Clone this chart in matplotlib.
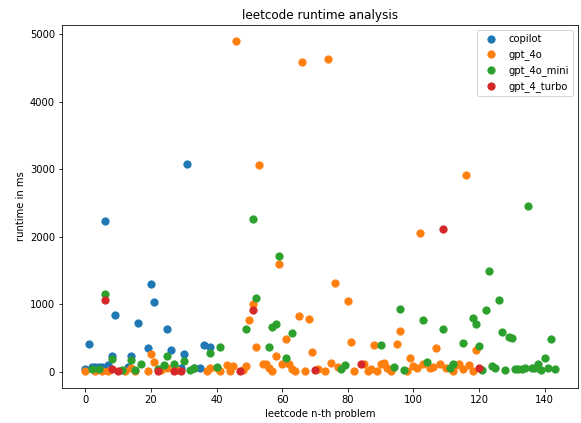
import matplotlib
matplotlib.use("Agg")
import matplotlib.pyplot as plt

copilot_x = [0, 1, 2, 3, 4, 5, 6, 7, 8, 9, 13, 14, 16, 19, 20, 21, 25, 26, 29, 30, 31, 33, 35, 36, 38]
copilot_y = [40, 415, 75, 70, 65, 70, 2230, 100, 240, 845, 70, 240, 720, 356, 1300, 1040, 640, 330, 60, 260, 3080, 60, 60, 390, 370]

gpt_4o_x = [0, 3, 5, 7, 12, 14, 15, 19, 20, 21, 23, 25, 28,
            37, 38, 40, 41, 43, 44, 45, 46, 48, 49,
            50, 51, 52, 53, 54, 55, 56, 57, 58, 59, 60,
            61, 62, 63, 64, 65, 66, 67, 68, 69, 71, 73, 74, 75, 76, 77, 80, 81, 82,
            85, 86, 87, 88, 89, 90, 91, 92, 93, 95, 96, 98, 99, 100, 101, 102, 103, 105, 106, 107, 108,
            110, 112, 113, 114, 115, 116, 117, 118, 119]
gpt_4o_y = [5, 5, 5, 15, 5, 60, 15, 5, 270, 140, 20, 60, 20,
            5, 60, 60, 5, 100, 10, 90, 4890, 30, 80,
            770, 1000, 370, 3060, 115, 115, 60, 15, 230, 1600, 115,
            480, 115, 45, 10, 820, 4590, 15, 780, 290, 45, 5, 4630, 130, 1310, 75, 1050, 440, 5,
            115, 5, 45, 390, 5, 115, 135, 60, 15, 410, 610, 5, 205, 90, 60, 2050, 115, 60, 75, 360, 115,
            60, 5, 100, 115, 45, 2910, 100, 15, 330]

gpt_4o_mini_x = [2, 4, 6, 8, 11, 14, 15, 17, 22, 24, 25, 27, 30, 32, 33, 38, 40, 41,
                 49, 51, 52, 56, 57, 58, 59, 61, 63, 78, 79, 90, 94, 96, 97, 103, 104, 109,
                 111, 112, 115, 118, 119, 120, 121, 122, 123, 124, 125, 126, 127, 128, 129, 130,
                 131, 132, 133, 134, 135, 136, 137, 138, 139, 140, 141, 142, 143]
gpt_4o_mini_y = [45, 45, 1150, 190, 30, 180, 30, 120, 45, 100, 240, 120, 165, 30, 60, 280, 75, 370,
                 630, 2260, 1090, 370, 670, 710, 1710, 200, 570, 45, 100, 390, 75, 930, 30, 770, 150, 640,
                 60, 115, 420, 790, 710, 380, 30, 920, 1500, 90, 60, 1070, 590, 30, 510, 500,
                 45, 45, 45, 60, 2450, 60, 60, 115, 30, 200, 60, 490, 45]

gpt_4_turbo_x = [6, 8, 10, 22, 27, 29, 47, 51, 70, 84, 109, 120]
gpt_4_turbo_y = [1070, 40, 5, 5, 5, 5, 10, 920, 20, 115, 2110, 60]

series = [
    ("copilot", copilot_x, copilot_y),
    ("gpt_4o", gpt_4o_x, gpt_4o_y),
    ("gpt_4o_mini", gpt_4o_mini_x, gpt_4o_mini_y),
    ("gpt_4_turbo", gpt_4_turbo_x, gpt_4_turbo_y),
]

DPI = 72
fig, ax = plt.subplots(figsize=(581 / DPI, 423 / DPI), dpi=DPI)
fig.subplots_adjust(left=62 / 581, right=578 / 581, top=1 - 25 / 423, bottom=1 - 388 / 423)
for name, xs, ys in series:
    ax.scatter(xs, ys, s=52, label=name)
ax.set_title("leetcode runtime analysis")
ax.set_xlabel("leetcode n-th problem")
ax.set_ylabel("runtime in ms")
ax.legend(loc="upper right")
fig.savefig("out.png", dpi=DPI)
